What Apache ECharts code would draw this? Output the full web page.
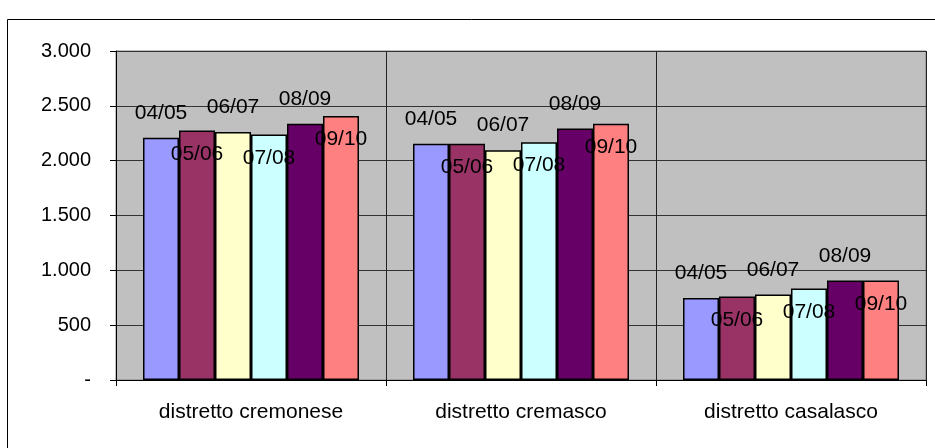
<!DOCTYPE html>
<html lang="it">
<head>
    <meta charset="UTF-8">
    <title>Distretti</title>
    <script src="https://cdn.jsdelivr.net/npm/echarts/dist/echarts.min.js"></script>
    <style>
        html, body { margin: 0; padding: 0; background: #fff; }
        #chart { width: 935px; height: 448px; }
    </style>
</head>
<body>
    <div id="chart"></div>
    <script>
        // dati
        const categories = ['distretto cremonese', 'distretto cremasco', 'distretto casalasco'];
        const seasons = ['04/05', '05/06', '06/07', '07/08', '08/09', '09/10'];
        const s0405 = [2210, 2155, 748];
        const s0506 = [2276, 2154, 762];
        const s0607 = [2261, 2096, 780];
        const s0708 = [2239, 2169, 835];
        const s0809 = [2337, 2294, 908];
        const s0910 = [2407, 2337, 908];
        const yTicks = [0, 500, 1000, 1500, 2000, 2500, 3000];

        const values = [s0405, s0506, s0607, s0708, s0809, s0910];
        const colors = ['#9999FF', '#993366', '#FFFFCC', '#CCFFFF', '#660066', '#FF8080'];
        const font = 'Liberation Sans, Arial, sans-serif';

        function fmt(v) {
            if (v === 0) return '-';
            return String(v).replace(/\B(?=(\d{3})+(?!\d))/g, '.');
        }

        var chart = echarts.init(document.getElementById('chart'));
        var option = {
            animation: false,
            graphic: [{
                type: 'rect',
                shape: { x: 7.5, y: 19.5, width: 1000, height: 1000 },
                style: { fill: 'none', stroke: '#000', lineWidth: 1 },
                silent: true
            }],
            grid: {
                left: 116, right: 9, top: 51, bottom: 68,
                show: true, backgroundColor: '#C0C0C0',
                borderWidth: 1, borderColor: '#808080'
            },
            xAxis: {
                type: 'category',
                data: categories,
                axisLine: { lineStyle: { color: '#000', width: 1 } },
                axisTick: { show: true, length: 6, lineStyle: { color: '#000' } },
                splitLine: { show: true, lineStyle: { color: '#222', width: 1 } },
                axisLabel: { color: '#000', fontFamily: font, fontSize: 21, margin: 22 }
            },
            yAxis: {
                type: 'value',
                min: yTicks[0],
                max: yTicks[yTicks.length - 1],
                interval: 500,
                axisLine: { show: true, lineStyle: { color: '#000', width: 1 } },
                axisTick: { show: true, length: 6, lineStyle: { color: '#000' } },
                splitLine: { show: true, lineStyle: { color: '#333', width: 1 } },
                axisLabel: { color: '#000', fontFamily: font, fontSize: 20, margin: 25, formatter: fmt }
            },
            series: seasons.map(function (name, i) {
                return {
                    name: name,
                    type: 'bar',
                    data: values[i],
                    barGap: '0%',
                    barCategoryGap: '20%',
                    itemStyle: { color: colors[i], borderColor: '#000', borderWidth: 1.5 },
                    label: {
                        show: true,
                        formatter: '{a}',
                        position: i % 2 === 0 ? 'top' : 'insideTop',
                        distance: i % 2 === 0 ? 14 : 13,
                        color: '#000',
                        fontFamily: font,
                        fontSize: 21
                    }
                };
            })
        };
        chart.setOption(option);
    </script>
</body>
</html>
